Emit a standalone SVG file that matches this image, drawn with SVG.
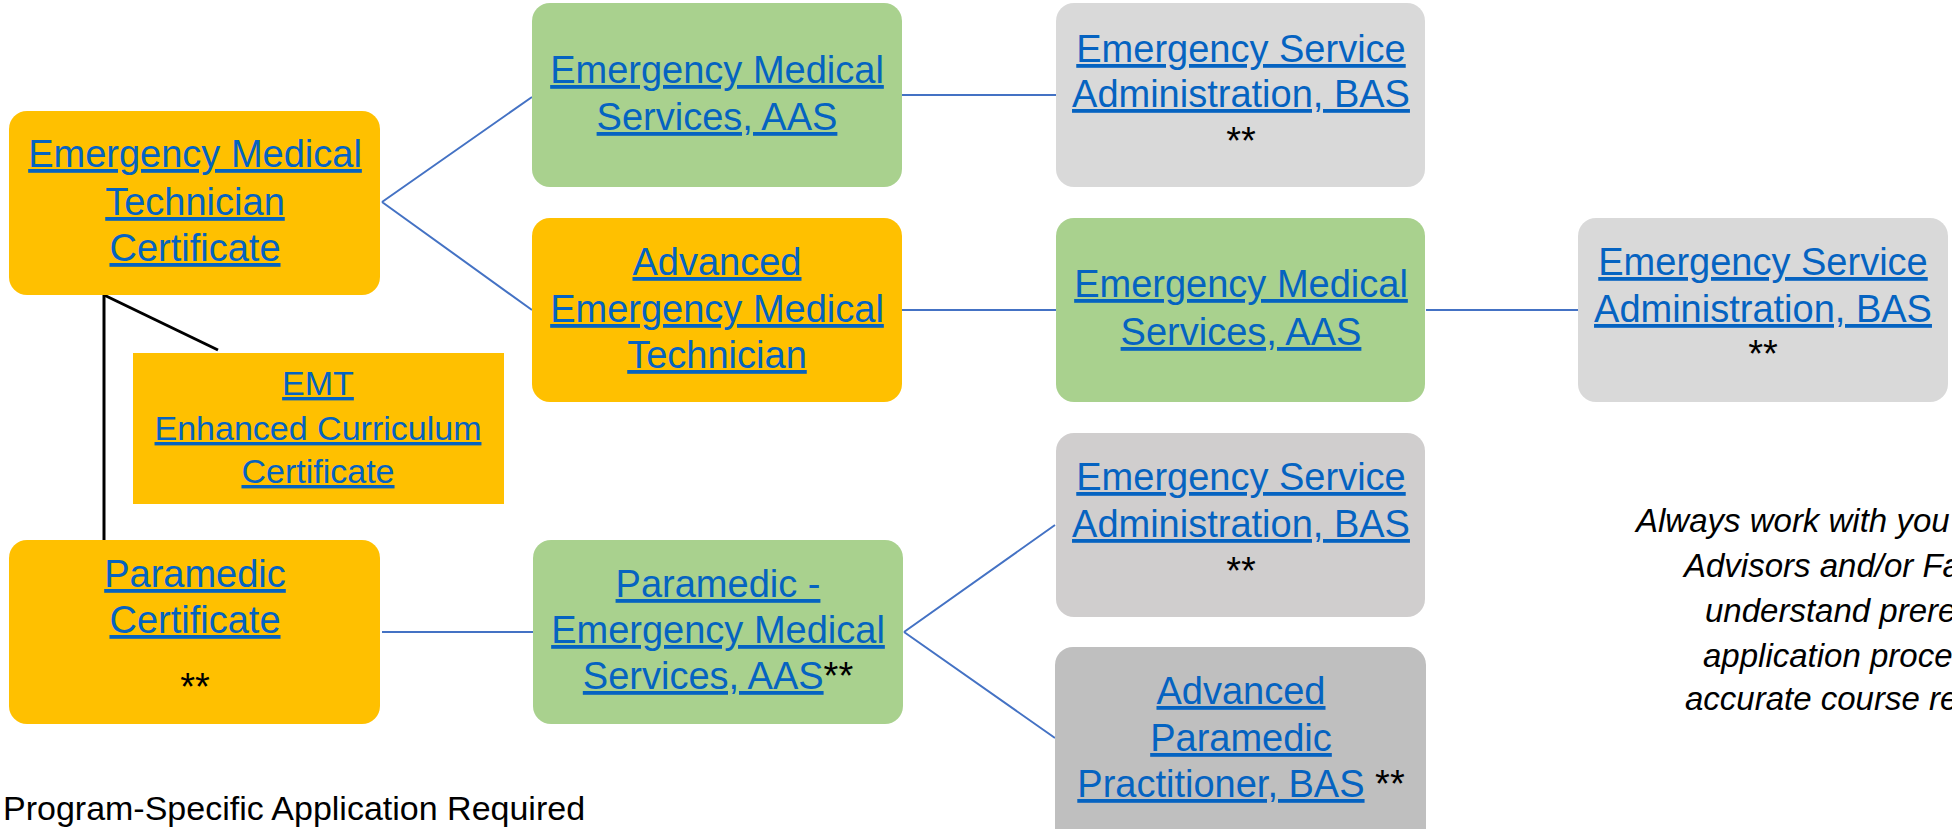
<svg xmlns="http://www.w3.org/2000/svg" width="1952" height="829" viewBox="0 0 1952 829">
<style>
.t{font-family:"Liberation Sans",Arial,sans-serif;font-size:38px;text-anchor:middle;fill:#0563C1}
.s{font-size:34px}
.u{text-decoration:underline}
.k{fill:#000000}
.or{fill:#FFC000}
.gr{fill:#A9D18E}
.g1{fill:#D9D9D9}
.g2{fill:#D0CECE}
.g3{fill:#BFBFBF}
.blue{stroke:#4472C4;stroke-width:2;fill:none}
.black{stroke:#000000;stroke-width:3;fill:none}
.note{font-family:"Liberation Sans",Arial,sans-serif;font-size:33px;font-style:italic;fill:#000000}
.foot{font-family:"Liberation Sans",Arial,sans-serif;font-size:34px;fill:#000000}
</style>
<rect width="1952" height="829" fill="#FFFFFF"/>
<g id="connectors">
<path class="blue" d="M382,202 L532,97 M382,202 L532,310"/>
<path class="blue" d="M902,95 L1056,95"/>
<path class="blue" d="M902,310 L1056,310"/>
<path class="blue" d="M1426,310 L1578,310"/>
<path class="blue" d="M382,632 L533,632"/>
<path class="blue" d="M904,632 L1055,525 M904,632 L1055,738"/>
<path class="black" d="M104,295 L104,540"/>
<path class="black" d="M104,295 L218,350"/>
</g>
<g id="emt-cert">
<rect class="or" x="9" y="111" width="371" height="184" rx="18"/>
<text class="t"><tspan class="u" x="195" y="167">Emergency Medical</tspan><tspan class="u" x="195" y="215">Technician</tspan><tspan class="u" x="195" y="261">Certificate</tspan></text>
</g>
<g id="emt-enhanced">
<rect class="or" x="133" y="353" width="371" height="151"/>
<text class="t s"><tspan class="u" x="318" y="395">EMT</tspan><tspan class="u" x="318" y="440">Enhanced Curriculum</tspan><tspan class="u" x="318" y="483">Certificate</tspan></text>
</g>
<g id="paramedic-cert">
<rect class="or" x="9" y="540" width="371" height="184" rx="18"/>
<text class="t"><tspan class="u" x="195" y="587">Paramedic</tspan><tspan class="u" x="195" y="633">Certificate</tspan><tspan class="k" x="195" y="700">**</tspan></text>
</g>
<g id="ems-aas-1">
<rect class="gr" x="532" y="3" width="370" height="184" rx="18"/>
<text class="t"><tspan class="u" x="717" y="83">Emergency Medical</tspan><tspan class="u" x="717" y="130">Services, AAS</tspan></text>
</g>
<g id="aemt">
<rect class="or" x="532" y="218" width="370" height="184" rx="18"/>
<text class="t"><tspan class="u" x="717" y="275">Advanced</tspan><tspan class="u" x="717" y="322">Emergency Medical</tspan><tspan class="u" x="717" y="368">Technician</tspan></text>
</g>
<g id="paramedic-ems-aas">
<rect class="gr" x="533" y="540" width="370" height="184" rx="18"/>
<text class="t"><tspan class="u" x="718" y="597">Paramedic -</tspan><tspan class="u" x="718" y="643">Emergency Medical</tspan></text>
<text class="t" x="718" y="689"><tspan class="u">Services, AAS</tspan><tspan class="k">**</tspan></text>
</g>
<g id="esa-bas-1">
<rect class="g1" x="1056" y="3" width="369" height="184" rx="18"/>
<text class="t"><tspan class="u" x="1241" y="62">Emergency Service</tspan><tspan class="u" x="1241" y="107">Administration, BAS</tspan><tspan class="k" x="1241" y="154">**</tspan></text>
</g>
<g id="ems-aas-2">
<rect class="gr" x="1056" y="218" width="369" height="184" rx="18"/>
<text class="t"><tspan class="u" x="1241" y="297">Emergency Medical</tspan><tspan class="u" x="1241" y="345">Services, AAS</tspan></text>
</g>
<g id="esa-bas-2">
<rect class="g1" x="1578" y="218" width="370" height="184" rx="18"/>
<text class="t"><tspan class="u" x="1763" y="275">Emergency Service</tspan><tspan class="u" x="1763" y="322">Administration, BAS</tspan><tspan class="k" x="1763" y="367">**</tspan></text>
</g>
<g id="esa-bas-3">
<rect class="g2" x="1056" y="433" width="369" height="184" rx="18"/>
<text class="t"><tspan class="u" x="1241" y="490">Emergency Service</tspan><tspan class="u" x="1241" y="537">Administration, BAS</tspan><tspan class="k" x="1241" y="584">**</tspan></text>
</g>
<g id="app-bas">
<rect class="g3" x="1055" y="647" width="371" height="210" rx="18"/>
<text class="t"><tspan class="u" x="1241" y="704">Advanced</tspan><tspan class="u" x="1241" y="751">Paramedic</tspan></text>
<text class="t" x="1241" y="797"><tspan class="u">Practitioner, BAS</tspan><tspan class="k"> **</tspan></text>
</g>
<g id="advisor-note">
<text class="note"><tspan x="1636" y="532">Always work with you</tspan><tspan x="1684" y="577">Advisors and/or Fa</tspan><tspan x="1705" y="622">understand prere</tspan><tspan x="1703" y="667">application proce</tspan><tspan x="1685" y="710">accurate course re</tspan></text>
</g>
<g id="footnote">
<text class="foot" x="3" y="820">Program-Specific Application Required</text>
</g>
</svg>
